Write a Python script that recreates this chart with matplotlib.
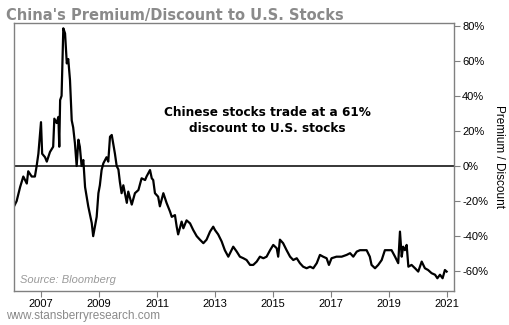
import matplotlib
matplotlib.use("Agg")
import matplotlib.pyplot as plt
from matplotlib.ticker import FuncFormatter

# China premium/discount vs U.S. stocks (%)
years = [
    2006.07, 2006.16, 2006.28, 2006.39, 2006.51, 2006.56, 2006.68, 2006.79, 2006.85, 2006.91,
    2007.00, 2007.04, 2007.14, 2007.20, 2007.31, 2007.42, 2007.46, 2007.54, 2007.60, 2007.63,
    2007.66, 2007.71, 2007.77, 2007.83, 2007.89, 2007.94, 2008.00, 2008.06, 2008.11, 2008.17,
    2008.23, 2008.29, 2008.34, 2008.40, 2008.46, 2008.52, 2008.63, 2008.75, 2008.80, 2008.92,
    2008.98, 2009.03, 2009.09, 2009.15, 2009.26, 2009.32, 2009.38, 2009.44, 2009.49, 2009.55,
    2009.61, 2009.67, 2009.72, 2009.78, 2009.84, 2009.96, 2010.01, 2010.13, 2010.18, 2010.24,
    2010.36, 2010.47, 2010.59, 2010.64, 2010.76, 2010.82, 2010.87, 2010.93, 2011.04, 2011.10,
    2011.22, 2011.33, 2011.45, 2011.51, 2011.62, 2011.68, 2011.73, 2011.85, 2011.91, 2012.02,
    2012.14, 2012.25, 2012.37, 2012.48, 2012.60, 2012.71, 2012.83, 2012.94, 2013.00, 2013.11,
    2013.23, 2013.34, 2013.46, 2013.52, 2013.63, 2013.75, 2013.86, 2013.98, 2014.09, 2014.21,
    2014.32, 2014.44, 2014.55, 2014.67, 2014.78, 2014.90, 2015.01, 2015.13, 2015.18, 2015.24,
    2015.35, 2015.47, 2015.59, 2015.70, 2015.82, 2015.93, 2016.04, 2016.16, 2016.28, 2016.39,
    2016.51, 2016.62, 2016.73, 2016.85, 2016.93, 2017.02, 2017.19, 2017.37, 2017.54, 2017.66,
    2017.77, 2017.89, 2018.00, 2018.11, 2018.23, 2018.34, 2018.40, 2018.52, 2018.63, 2018.75,
    2018.86, 2018.98, 2019.09, 2019.21, 2019.32, 2019.38, 2019.44, 2019.49, 2019.55, 2019.61,
    2019.67, 2019.78, 2019.90, 2020.01, 2020.13, 2020.24, 2020.35, 2020.47, 2020.59, 2020.67,
    2020.76, 2020.85, 2020.93, 2020.99,
]
premium = [
    -23, -20, -12, -6, -10, -3, -6, -6, 0, 7,
    25, 7, 5, 2.5, 8, 11, 27, 24.5, 28, 11,
    37.6, 40, 78.5, 75.6, 58.5, 61, 49, 26, 22, 13,
    0, 15, 11, 0, 3.4, -12, -23, -32.5, -40, -29,
    -15.5, -11, -2.3, 1.5, 5, 2.5, 16.7, 17.7, 13, 7,
    0, -2, -9, -15.5, -11, -21, -14.6, -22, -19, -15.5,
    -13.7, -7, -8, -6, -2.3, -7, -8, -15.5, -17.5, -23,
    -15.5, -21, -26, -29, -28, -34.6, -39, -31.7, -35.5, -31,
    -32.7, -36.5, -40, -42, -44, -42, -37.4, -34.6, -36.5, -39,
    -43, -48, -51.7, -49.7, -46, -48.8, -51.7, -52.6, -53.6, -56.4,
    -56.4, -54.5, -51.7, -52.6, -51.7, -48, -45, -46.9, -51.7, -42,
    -44, -48, -51.7, -53.6, -52.6, -55.4, -57.4, -58.3, -57.4, -58.3,
    -55.4, -50.7, -51.7, -52.6, -56.4, -52.6, -51.7, -51.7, -50.7, -49.7,
    -51.7, -48.8, -48, -48, -48, -51.7, -56.4, -58.3, -56.4, -53.6,
    -48, -48, -48, -51.7, -55.4, -37.4, -51.7, -46, -48, -45,
    -57.4, -56.4, -58.3, -60.2, -54.5, -58.3, -59.3, -61.1, -62, -64,
    -62, -64, -59.3, -60.2,
]
year_ticks = [2007, 2009, 2011, 2013, 2015, 2017, 2019, 2021]
pct_ticks = [-60, -40, -20, 0, 20, 40, 60, 80]

FRAME = "#808080"

fig = plt.figure(figsize=(5.1, 3.25), dpi=100)
ax = fig.add_axes([0.0275, 0.105, 0.8625, 0.824])

ax.axhline(0, color="black", linewidth=1.1, zorder=1)
ax.plot(years, premium, color="black", linewidth=1.6, zorder=2)

ax.set_xlim(2006.07, 2021.24)
ax.set_ylim(-71.2, 81.5)
ax.set_xticks(year_ticks)
ax.set_yticks(pct_ticks)
ax.yaxis.set_major_formatter(FuncFormatter(lambda v, _: f"{v:.0f}%"))
ax.yaxis.tick_right()
ax.yaxis.set_label_position("right")
ax.tick_params(axis="both", colors=FRAME, labelcolor="black", length=4, width=0.8,
               labelsize=8)
for lab in ax.get_xticklabels() + ax.get_yticklabels():
    lab.set_family("Liberation Sans")
ax.tick_params(axis="y", pad=2)
ax.tick_params(axis="x", pad=2)
for sp in ax.spines.values():
    sp.set_color(FRAME)
    sp.set_linewidth(1.0)

ax.set_ylabel("Premium / Discount", rotation=270, labelpad=12, fontsize=8.5,
              family="Liberation Sans")

ax.text(2014.8, 26, "Chinese stocks trade at a 61%\ndiscount to U.S. stocks",
        ha="center", va="center", fontsize=8.7, fontweight="bold",
        family="DejaVu Sans", linespacing=1.25)
ax.text(0.014, 0.03, "Source: Bloomberg", transform=ax.transAxes, fontsize=8,
        style="italic", color="#9a9a9a", family="Liberation Sans")

fig.text(0.012, 0.975, "China's Premium/Discount to U.S. Stocks", ha="left", va="top",
         fontsize=10.5, fontweight="bold", color="#8a8a8a", family="DejaVu Sans")
fig.text(0.012, 0.008, "www.stansberryresearch.com", ha="left", va="bottom",
         fontsize=8.5, color="#8a8a8a", family="Liberation Sans")

fig.savefig("out.png", dpi=100)
